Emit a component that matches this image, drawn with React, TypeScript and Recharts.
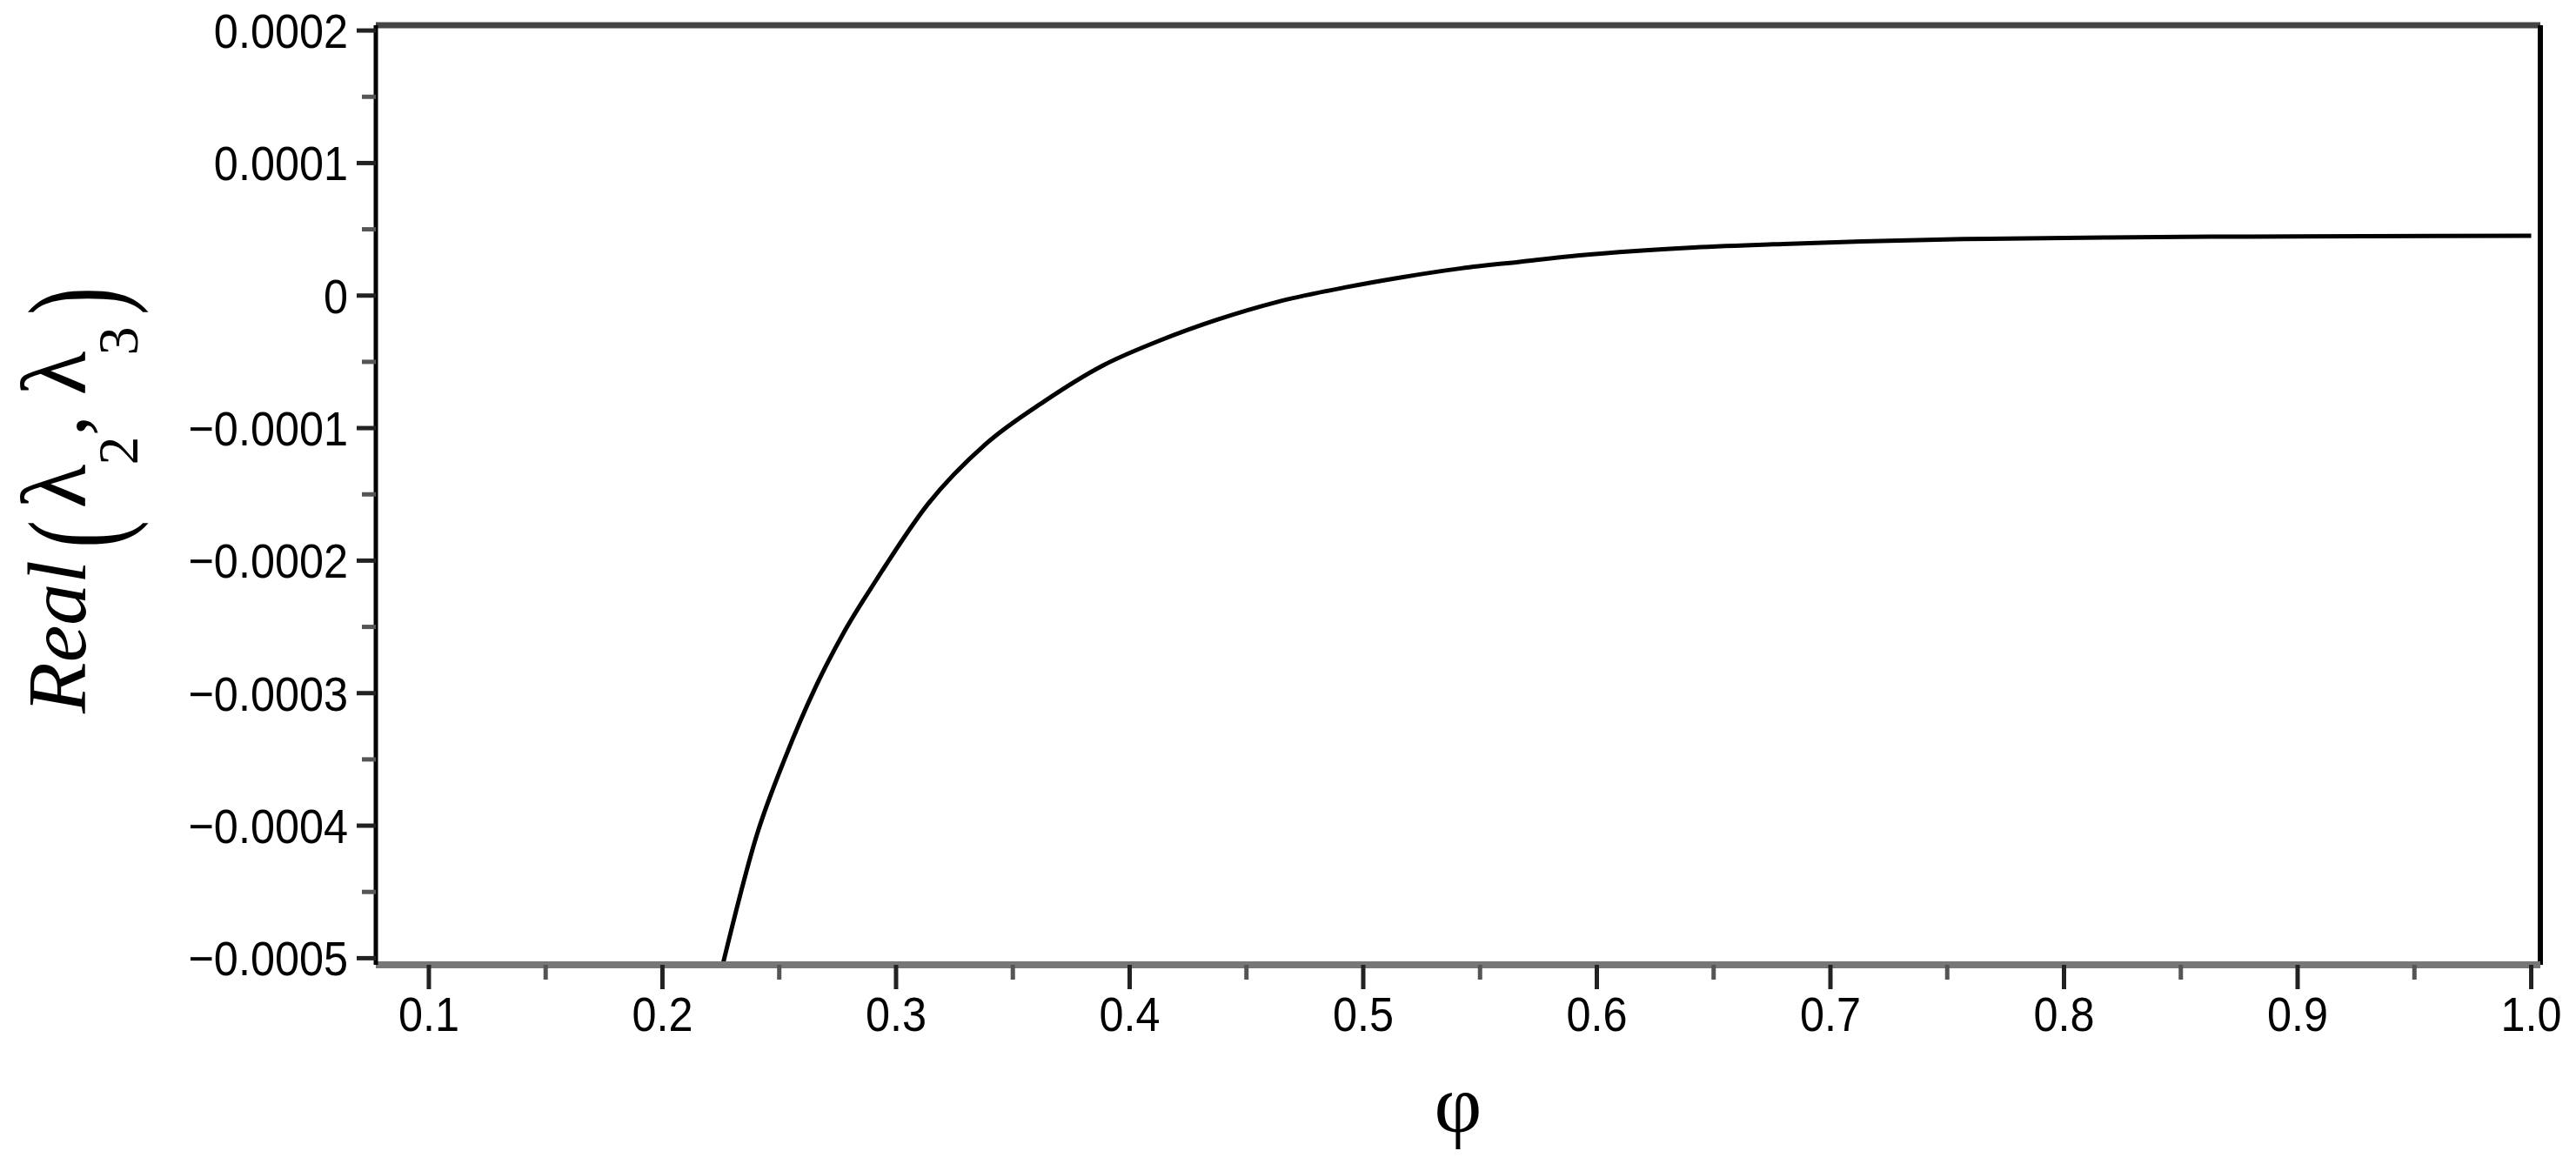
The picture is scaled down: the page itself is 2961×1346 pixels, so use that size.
import React from 'react';
import { LineChart, Line, XAxis, YAxis, ReferenceLine } from 'recharts';

// phi and Real(lambda_2, lambda_3)
const PHI = [
  0.2258, 0.2404, 0.2527, 0.2654, 0.2777, 0.2914, 0.3138, 0.3384, 0.3633, 0.3883,
  0.4128, 0.4378, 0.4628, 0.4926, 0.5171, 0.5421, 0.567, 0.5916, 0.6166, 0.6415,
  0.6825, 0.7134, 0.757, 0.8188, 0.8512, 0.9, 1.0,
];
const REAL_L23 = [
  -0.000505, -0.000407, -0.000348, -0.000296, -0.000254, -0.000215, -0.000157,
  -0.000112, -0.00008, -0.000053, -0.000034, -0.000018, -0.000005, 0.0000063,
  0.000014, 0.0000206, 0.0000255, 0.0000302, 0.0000337, 0.0000363, 0.0000391,
  0.0000408, 0.0000426, 0.0000439, 0.0000443, 0.0000447, 0.0000452,
];

// tick values (majors get labels, the rest are minor ticks)
const X_TICKS = [
  0.1, 0.15, 0.2, 0.25, 0.3, 0.35, 0.4, 0.45, 0.5, 0.55,
  0.6, 0.65, 0.7, 0.75, 0.8, 0.85, 0.9, 0.95, 1.0,
];
const Y_TICKS = [
  -0.0005, -0.00045, -0.0004, -0.00035, -0.0003, -0.00025, -0.0002, -0.00015,
  -0.0001, -0.00005, 0, 0.00005, 0.0001, 0.00015, 0.0002,
];
const X_DOMAIN = [0.0773, 1.0039];
const Y_DOMAIN = [-0.000505, 0.000204];

const W = 2961;
const H = 1346;
const SANS = "'Liberation Sans', Arial, sans-serif";
const SERIF = "'Liberation Serif', 'Times New Roman', serif";

const isMajorX = (v: number) => Math.abs(v * 10 - Math.round(v * 10)) < 1e-6;
const isMajorY = (v: number) => Math.abs(v * 1e4 - Math.round(v * 1e4)) < 1e-6;

const fmtX = (v: number) => v.toFixed(1);
const fmtY = (v: number) => {
  if (Math.abs(v) < 1e-12) return '0';
  return v < 0 ? '\u2212' + Math.abs(v).toFixed(4) : v.toFixed(4);
};

const XTick = (props: any) => {
  const { x, y, payload } = props;
  const major = isMajorX(payload.value);
  return (
    <g>
      <line x1={x} x2={x} y1={y} y2={y + (major ? 28 : 17)} stroke={major ? '#222' : '#555'} strokeWidth={5} />
      {major && (
        <text
          transform={`translate(${x},${y + 76}) scale(0.9,1)`}
          textAnchor="middle"
          fontFamily={SANS}
          fontSize={56}
          fill="#000"
        >
          {fmtX(payload.value)}
        </text>
      )}
    </g>
  );
};

const YTick = (props: any) => {
  const { x, y, payload } = props;
  const major = isMajorY(payload.value);
  return (
    <g>
      <line x1={x - (major ? 22 : 16)} x2={x} y1={y} y2={y} stroke={major ? '#222' : '#555'} strokeWidth={5} />
      {major && (
        <text
          transform={`translate(${x - 32},${y + 20}) scale(0.9,1)`}
          textAnchor="end"
          fontFamily={SANS}
          fontSize={56}
          fill="#000"
        >
          {fmtY(payload.value)}
        </text>
      )}
    </g>
  );
};

// Real(λ₂, λ₃) written sideways, Maple style, with stretched parentheses
const YTitle = (props: any) => {
  const vb = props.viewBox && props.viewBox.height ? props.viewBox : { x: 0, y: 29, width: 432, height: 1080 };
  const tx = vb.x + 98;
  const ty = vb.y + 791;
  return (
    <g transform={`translate(${tx},${ty}) rotate(-90)`} fontFamily={SERIF} fill="#000">
      <text x={0} y={0} fontSize={96} fontStyle="italic">Real</text>
      <text transform="translate(206,40) scale(1,1.6)" textAnchor="middle" fontSize={95}>(</text>
      <text x={261} y={0} textAnchor="middle" fontSize={105}>λ</text>
      <text x={302} y={60} textAnchor="middle" fontSize={66}>2</text>
      <text x={331} y={0} textAnchor="middle" fontSize={95}>,</text>
      <text x={391} y={0} textAnchor="middle" fontSize={105}>λ</text>
      <text x={428} y={60} textAnchor="middle" fontSize={66}>3</text>
      <text transform="translate(474,40) scale(1,1.6)" textAnchor="middle" fontSize={95}>)</text>
    </g>
  );
};

const XTitle = (props: any) => {
  const vb = props.viewBox && props.viewBox.width ? props.viewBox : { x: 432, y: 1109, width: 2488, height: 237 };
  return (
    <text x={vb.x + vb.width / 2} y={vb.y + 192} textAnchor="middle" fontFamily={SERIF} fontSize={95} fill="#000">
      φ
    </text>
  );
};

export default function App() {
  const data = PHI.map((phi, i) => ({ phi, real: REAL_L23[i] }));

  return (
    <div style={{ position: 'absolute', left: 0, top: 0, width: W, height: H, background: '#fff' }}>
      <LineChart width={W} height={H} data={data} margin={{ top: 29, right: 41, bottom: 0, left: 0 }}>
        <XAxis
          dataKey="phi"
          type="number"
          domain={X_DOMAIN}
          allowDataOverflow
          ticks={X_TICKS}
          interval={0}
          height={237}
          tickSize={0}
          tickMargin={0}
          tickLine={false}
          tick={<XTick />}
          axisLine={{ stroke: '#777', strokeWidth: 8 }}
          label={{ content: XTitle }}
        />
        <YAxis
          type="number"
          domain={Y_DOMAIN}
          allowDataOverflow
          ticks={Y_TICKS}
          interval={0}
          width={432}
          tickSize={0}
          tickMargin={0}
          tickLine={false}
          tick={<YTick />}
          axisLine={{ stroke: '#000', strokeWidth: 5 }}
          label={{ content: YTitle }}
        />
        {/* top and right frame */}
        <ReferenceLine y={Y_DOMAIN[1]} stroke="#454545" strokeWidth={7} />
        <ReferenceLine x={X_DOMAIN[1]} stroke="#000" strokeWidth={6} />
        <Line
          type="monotone"
          dataKey="real"
          stroke="#000"
          strokeWidth={5}
          dot={false}
          activeDot={false}
          isAnimationActive={false}
        />
      </LineChart>
    </div>
  );
}
